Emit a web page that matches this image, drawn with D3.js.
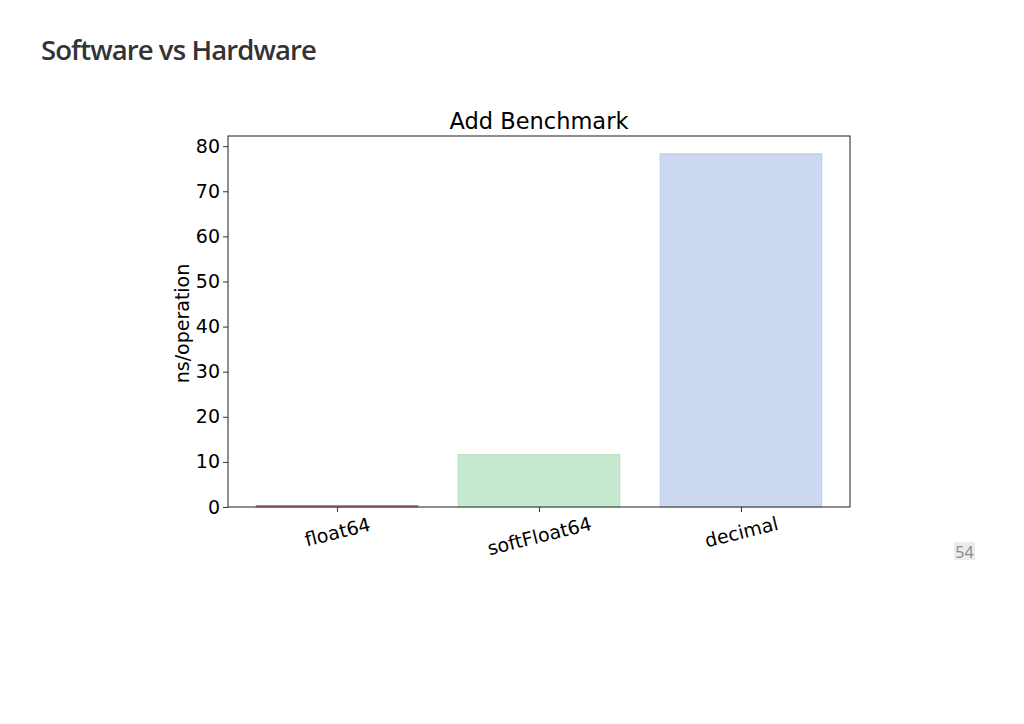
<!DOCTYPE html>
<html><head><meta charset="utf-8">
<script src="https://cdn.jsdelivr.net/npm/d3@7"></script>
<style>
body{margin:0;background:#fff;}
svg{display:block;}
</style></head>
<body>
<svg id="c" width="1024" height="724"></svg>
<script>
const categories = ["float64", "softFloat64", "decimal"];
const values = [0.3, 11.6, 78.3];
const fills = ["#f2c4c6", "#c6e9d0", "#cdd9f0"];
const strokes = ["#c0606a", "#b3dfc0", "#b9c9ea"];
const yTicks = [0, 10, 20, 30, 40, 50, 60, 70, 80];
const pageTitle = "Software vs Hardware";
const chartTitle = "Add Benchmark";
const yLabel = "ns/operation";
const pageNumber = "54";

const svg = d3.select("#c");
const L = 228, R = 850, T = 136, B = 507;

svg.append("text").attr("x", 41).attr("y", 60)
  .attr("font-family", "Open Sans").attr("font-weight", 600)
  .attr("font-size", 27.5).attr("fill", "#333").attr("letter-spacing", -0.9)
  .text(pageTitle);

const x = d3.scaleLinear().domain([-0.54, 2.54]).range([L, R]);
const y = d3.scaleLinear().domain([0, 82.25]).range([B, T]);
const bw = x(0.8) - x(0);

const g = svg.append("g");
g.selectAll("rect.bar").data(values).enter().append("rect")
  .attr("class", "bar")
  .attr("x", (d, i) => x(i) - bw / 2)
  .attr("width", bw)
  .attr("y", d => y(d))
  .attr("height", d => y(0) - y(d))
  .attr("fill", (d, i) => fills[i])
  .attr("stroke", (d, i) => strokes[i])
  .attr("stroke-width", 1);

g.append("rect").attr("x", L).attr("y", T).attr("width", R - L).attr("height", B - T)
  .attr("fill", "none").attr("stroke", "#333").attr("stroke-width", 1.1);

const yAxis = d3.axisLeft(y).tickValues(yTicks).tickSize(5).tickPadding(3);
const ya = svg.append("g").attr("transform", `translate(${L},0)`).call(yAxis);
ya.select(".domain").remove();
ya.selectAll("line").attr("stroke", "#333");
ya.selectAll("text").attr("font-family", "DejaVu Sans").attr("font-size", 19).attr("fill", "#000");

const xAxis = d3.axisBottom(x).tickValues([0, 1, 2]).tickFormat((d) => categories[d]).tickSize(5).tickPadding(5);
const xa = svg.append("g").attr("transform", `translate(0,${B})`).call(xAxis);
xa.select(".domain").remove();
xa.selectAll("line").attr("stroke", "#333");
xa.selectAll("text").attr("font-family", "DejaVu Sans").attr("font-size", 19).attr("fill", "#000")
  .attr("text-anchor", "middle")
  .attr("transform", (d, i) => `translate(0,${i === 1 ? 29 : 25}) rotate(-14)`)
  .attr("dy", "0.35em").attr("y", 0);

svg.append("text").attr("x", (L + R) / 2).attr("y", 129)
  .attr("text-anchor", "middle").attr("font-family", "DejaVu Sans").attr("font-size", 22.5)
  .attr("fill", "#000").text(chartTitle);

svg.append("text").attr("transform", `translate(189,${(T + B) / 2 + 2}) rotate(-90)`)
  .attr("text-anchor", "middle").attr("font-family", "DejaVu Sans").attr("font-size", 19)
  .attr("fill", "#000").text(yLabel);

svg.append("rect").attr("x", 954).attr("y", 542).attr("width", 21).attr("height", 18).attr("fill", "#ececec");
svg.append("text").attr("x", 964.5).attr("y", 557.5).attr("text-anchor", "middle")
  .attr("font-family", "Open Sans").attr("font-size", 16).attr("fill", "#888").text(pageNumber);
</script>
</body></html>
